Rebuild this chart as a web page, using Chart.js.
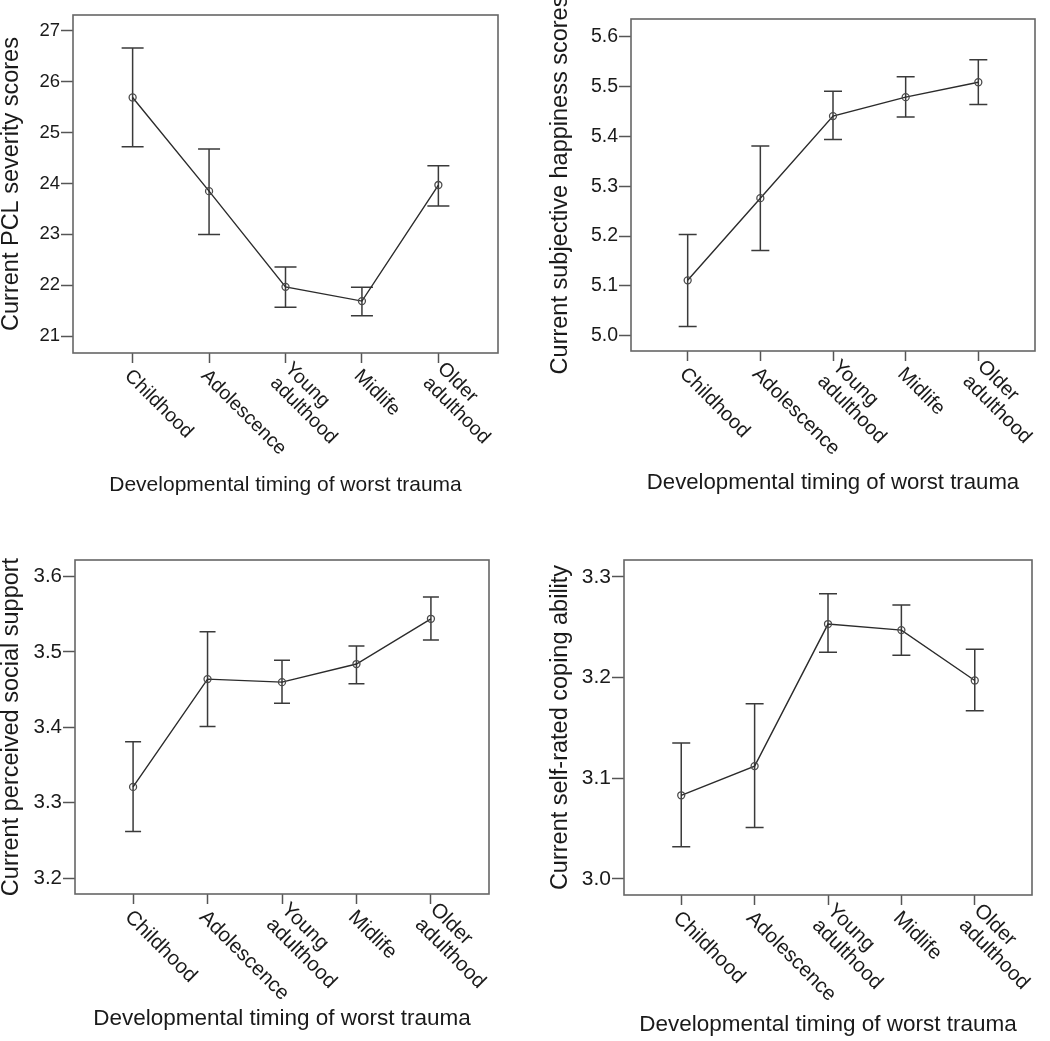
<!DOCTYPE html>
<html>
<head>
<meta charset="utf-8">
<script src="https://cdn.jsdelivr.net/npm/chart.js@4.4.1/dist/chart.umd.min.js"></script>
<style>
  body { margin: 0; background: #fff; }
  #wrap { position: relative; width: 1050px; height: 1041px; overflow: hidden; }
  canvas { position: absolute; }
</style>
</head>
<body>
<div id="wrap">
  <canvas id="pcl" width="525" height="520" style="left:0;top:0"></canvas>
  <canvas id="happy" width="501" height="520" style="left:549px;top:0"></canvas>
  <canvas id="social" width="525" height="521" style="left:0;top:520px"></canvas>
  <canvas id="coping" width="501" height="521" style="left:549px;top:520px"></canvas>
</div>
<script>
const categories = ['Childhood', 'Adolescence', ['Young', 'adulthood'], 'Midlife', ['Older', 'adulthood']];
const xTitle = 'Developmental timing of worst trauma';

// PCL severity
const pclMean  = [25.69, 23.85, 21.97, 21.69, 23.97];
const pclLower = [24.72, 23.00, 21.57, 21.40, 23.56];
const pclUpper = [26.66, 24.68, 22.36, 21.96, 24.35];
const pclTicks = [21, 22, 23, 24, 25, 26, 27];

// subjective happiness
const happyMean  = [5.111, 5.276, 5.441, 5.479, 5.509];
const happyLower = [5.018, 5.171, 5.394, 5.439, 5.464];
const happyUpper = [5.203, 5.381, 5.491, 5.520, 5.554];
const happyTicks = [5.0, 5.1, 5.2, 5.3, 5.4, 5.5, 5.6];

// perceived social support
const socialMean  = [3.321, 3.464, 3.460, 3.484, 3.544];
const socialLower = [3.262, 3.401, 3.432, 3.458, 3.516];
const socialUpper = [3.381, 3.527, 3.489, 3.508, 3.573];
const socialTicks = [3.2, 3.3, 3.4, 3.5, 3.6];

// self-rated coping
const copingMean  = [3.083, 3.112, 3.253, 3.247, 3.197];
const copingLower = [3.032, 3.051, 3.225, 3.222, 3.167];
const copingUpper = [3.135, 3.174, 3.283, 3.272, 3.228];
const copingTicks = [3.0, 3.1, 3.2, 3.3];

const FONT = '"Liberation Sans", Arial, Helvetica, sans-serif';

const extras = {
  id: 'extras',
  beforeDatasetsDraw(chart, args, o) {
    const { ctx } = chart;
    const xs = chart.scales.x, ys = chart.scales.y;
    ctx.save();
    ctx.strokeStyle = '#3a3a3a';
    ctx.lineWidth = 1.5;
    o.lower.forEach((lo, i) => {
      const x = xs.getPixelForValue(i);
      const y1 = ys.getPixelForValue(lo), y2 = ys.getPixelForValue(o.upper[i]);
      ctx.beginPath();
      ctx.moveTo(x, y1); ctx.lineTo(x, y2);
      ctx.moveTo(x - o.cap, y1); ctx.lineTo(x + o.cap, y1);
      ctx.moveTo(x - o.cap, y2); ctx.lineTo(x + o.cap, y2);
      ctx.stroke();
    });
    ctx.restore();
  },
  afterDraw(chart, args, o) {
    const { ctx, chartArea: a } = chart;
    const xs = chart.scales.x;
    ctx.save();
    ctx.strokeStyle = '#666';
    ctx.lineWidth = 1.6;
    ctx.strokeRect(a.left, a.top, a.right - a.left, a.bottom - a.top);
    ctx.fillStyle = '#1a1a1a';
    ctx.font = o.catSize + 'px ' + FONT;
    ctx.textAlign = 'left';
    ctx.textBaseline = 'middle';
    const lh = o.catSize * 1.05;
    categories.forEach((lab, i) => {
      const lines = Array.isArray(lab) ? lab : [lab];
      ctx.save();
      ctx.translate(xs.getPixelForValue(i) - 5, a.bottom + 20);
      ctx.rotate(Math.PI / 4);
      lines.forEach((ln, j) => ctx.fillText(ln, 0, (j - (lines.length - 1) / 2) * lh));
      ctx.restore();
    });
    ctx.restore();
  }
};

function makePanel(id, p) {
  new Chart(document.getElementById(id), {
    type: 'line',
    data: {
      datasets: [{
        data: p.mean.map((v, i) => ({ x: i, y: v })),
        borderColor: '#2b2b2b',
        borderWidth: 1.4,
        pointRadius: 3.5,
        pointBorderColor: '#4a4a4a',
        pointBorderWidth: 1.3,
        pointBackgroundColor: 'rgba(0,0,0,0)',
        tension: 0
      }]
    },
    options: {
      responsive: false,
      animation: false,
      layout: { padding: { top: p.padTop, right: p.padRight, left: 0, bottom: 0 } },
      plugins: {
        legend: { display: false },
        tooltip: { enabled: false },
        extras: { lower: p.lower, upper: p.upper, cap: p.cap, catSize: p.catSize }
      },
      scales: {
        x: {
          type: 'linear',
          min: -0.78, max: 4.78,
          afterBuildTicks: s => { s.ticks = categories.map((c, i) => ({ value: i })); },
          afterFit: s => { s.height = p.xHeight; },
          ticks: { display: false },
          grid: { drawOnChartArea: false, drawTicks: true, tickLength: 10, tickColor: '#555', tickWidth: 1.5 },
          border: { display: false },
          title: {
            display: true, text: xTitle, color: '#1a1a1a',
            font: { family: FONT, size: p.xTitleSize, lineHeight: 1 },
            padding: { top: 0, bottom: p.xTitlePad }
          }
        },
        y: {
          min: p.yMin, max: p.yMax,
          afterBuildTicks: s => { s.ticks = p.ticks.map(v => ({ value: v })); },
          afterFit: s => { s.width = p.yWidth; },
          ticks: {
            color: '#1a1a1a', padding: 1,
            font: { family: FONT, size: p.tickSize },
            callback: v => v.toFixed(p.dec)
          },
          grid: { drawOnChartArea: false, drawTicks: true, tickLength: 12, tickColor: '#555', tickWidth: 1.5 },
          border: { display: false },
          title: {
            display: true, text: p.yTitle, color: '#1a1a1a',
            font: { family: FONT, size: 23.5, lineHeight: 1 },
            padding: { top: 0, bottom: 0 }
          }
        }
      }
    },
    plugins: [extras]
  });
}

makePanel('pcl', {
  mean: pclMean, lower: pclLower, upper: pclUpper, ticks: pclTicks, dec: 0,
  yMin: 20.67, yMax: 27.31, yTitle: 'Current PCL severity scores',
  yWidth: 73, padTop: 15, padRight: 27, xHeight: 167, xTitlePad: 24.5,
  cap: 11, tickSize: 18.5, catSize: 19.5, xTitleSize: 21
});
makePanel('happy', {
  mean: happyMean, lower: happyLower, upper: happyUpper, ticks: happyTicks, dec: 1,
  yMin: 4.969, yMax: 5.636, yTitle: 'Current subjective happiness scores',
  yWidth: 82, padTop: 19, padRight: 15, xHeight: 169, xTitlePad: 26.5,
  cap: 9, tickSize: 19.5, catSize: 20, xTitleSize: 22.2
});
makePanel('social', {
  mean: socialMean, lower: socialLower, upper: socialUpper, ticks: socialTicks, dec: 1,
  yMin: 3.179, yMax: 3.622, yTitle: 'Current perceived social support',
  yWidth: 75, padTop: 40, padRight: 36, xHeight: 147, xTitlePad: 10.5,
  cap: 8, tickSize: 20.5, catSize: 20.5, xTitleSize: 22.5
});
makePanel('coping', {
  mean: copingMean, lower: copingLower, upper: copingUpper, ticks: copingTicks, dec: 1,
  yMin: 2.984, yMax: 3.3166, yTitle: 'Current self-rated coping ability',
  yWidth: 75, padTop: 40, padRight: 18, xHeight: 146, xTitlePad: 4.5,
  cap: 9, tickSize: 21, catSize: 20.5, xTitleSize: 22.5
});
</script>
</body>
</html>
